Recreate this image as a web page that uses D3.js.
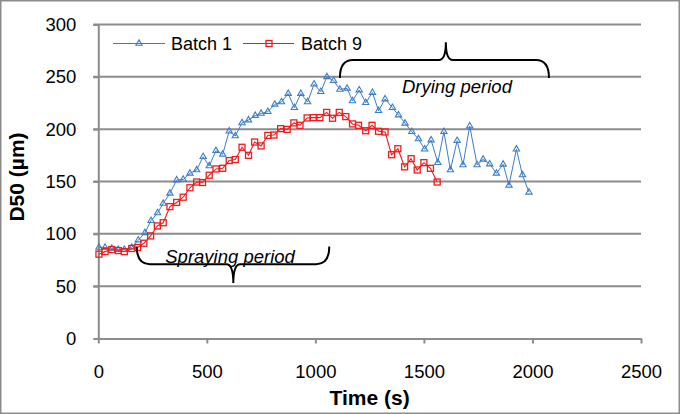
<!DOCTYPE html>
<meta charset="utf-8">
<style>
body { margin: 0; background: #fff; }
svg { font-family: Arial, "Liberation Sans", sans-serif; }
.grid line { stroke: #8c8c8c; stroke-width: 2px; }
.axis path, .axis line { stroke: #8c8c8c; stroke-width: 2px; }
.axis text { font-size: 18.5px; fill: #000; }
</style>
<body>
<script src="https://cdn.jsdelivr.net/npm/d3@7"></script>
<script>

// Batch 1 (blue triangles)
var timeB1 = [3,31,62,92,120,154,184,215,243,273,299,330,361,391,422,453,483,511,542,573,603,631,662,692,723,750,781,813,844,875,903,933,964,994,1025,1053,1084,1113,1146,1171,1202,1232,1263,1291,1321,1355,1383,1413,1444,1475,1503,1533,1564,1592,1622,1653,1680,1711,1745,1773,1803,1834,1865,1892,1926,1954,1984];
var d50B1 = [87,87,86,85,85,87,94,101,112.6,120,129,138.7,151.4,152,157.8,161,173.7,164.8,179.4,176,198,193.5,206,208.7,213,215,216.7,223.7,226,234,220.5,234,226,243,235.8,250,246.3,238,239,227,237.4,225.3,235,217.6,228.8,220.5,213.5,205.6,197.6,190.6,180.8,189.6,168,197.6,161,189,165.8,203,165.8,171.2,166.7,157.8,166.4,146.4,180.8,156.2,139.7];

// Batch 9 (red squares)
var timeB9 = [3,31,62,92,120,154,181,210,241,272,299,330,361,391,422,453,480,511,542,573,603,631,662,692,720,750,781,809,840,870,901,929,962,990,1021,1052,1079,1110,1140,1171,1199,1232,1261,1291,1321,1351,1380,1411,1441,1469,1500,1530,1561];
var d50B9 = [80.6,83,85,84,83,86,87,91,98,107.5,110.6,126,130,135,144,149.5,149,156,162,162.6,170,171,182.7,175,187.7,184,194,194.4,200.5,199.8,206,203.7,210.7,211,211,216,210.4,216,212,205,203.7,198.5,203.7,198,197.3,175.6,181.3,164,171.8,161,168,162.6,149.5];

var xTicks = [0,500,1000,1500,2000,2500];
var yTicks = [0,50,100,150,200,250,300];

// brace annotations, in data units: [t start, t end, t tip, value at ends, value of line, value at tip]
var sprayBrace = [177, 1064, 622, 88, 71, 53];
var dryBrace = [1113, 2076, 1601, 249, 266, 283];

var width = 680, height = 414;
var margin = {top: 24.5, right: 39, bottom: 75.5, left: 98.3};

var svg = d3.select("body").append("svg")
    .attr("width", width)
    .attr("height", height);

// outer frame
svg.append("rect")
    .attr("x", 0.75).attr("y", 0.75)
    .attr("width", width - 1.5).attr("height", height - 1.5)
    .attr("fill", "none").attr("stroke", "#8c8c8c").attr("stroke-width", 1.5);

var x = d3.scaleLinear().domain([0, 2500]).range([margin.left, width - margin.right]);
var y = d3.scaleLinear().domain([0, 300]).range([height - margin.bottom, margin.top]);

// horizontal gridlines
svg.append("g").attr("class", "grid")
  .selectAll("line")
  .data(yTicks.slice(1))
  .enter().append("line")
    .attr("x1", margin.left - 5).attr("x2", x(2500))
    .attr("y1", d => y(d)).attr("y2", d => y(d));

// axes
svg.append("g").attr("class", "axis")
    .attr("transform", "translate(0," + y(0) + ")")
    .call(d3.axisBottom(x).tickValues(xTicks).tickFormat(d3.format("d")).tickSize(5).tickPadding(21).tickSizeOuter(0));

svg.append("g").attr("class", "axis")
    .attr("transform", "translate(" + margin.left + ",0)")
    .call(d3.axisLeft(y).tickValues(yTicks).tickFormat(d3.format("d")).tickSize(5).tickPadding(17).tickSizeOuter(0));

// axis titles
svg.append("text")
    .attr("x", (x(0) + x(2500)) / 2)
    .attr("y", 405)
    .attr("text-anchor", "middle")
    .style("font-size", "21px").style("font-weight", "bold")
    .text("Time (s)");

svg.append("text")
    .attr("transform", "translate(24,177) rotate(-90)")
    .attr("text-anchor", "middle")
    .style("font-size", "21px").style("font-weight", "bold")
    .text("D50 (µm)");

// series
var blue = "#3b7dc8", red = "#ee1c1c";
var line = d3.line().x(d => x(d[0])).y(d => y(d[1]));
var b1 = timeB1.map((t, i) => [t, d50B1[i]]);
var b9 = timeB9.map((t, i) => [t, d50B9[i]]);

svg.append("path").datum(b1)
    .attr("fill", "none").attr("stroke", blue).attr("stroke-width", 1)
    .attr("d", line);

var tri = d3.symbol().type(d3.symbolTriangle).size(17);
svg.append("g").selectAll("path")
    .data(b1)
  .enter().append("path")
    .attr("transform", d => "translate(" + x(d[0]) + "," + y(d[1]) + ")")
    .attr("d", tri)
    .attr("fill", "none").attr("stroke", blue).attr("stroke-width", 1.1);

svg.append("path").datum(b9)
    .attr("fill", "none").attr("stroke", red).attr("stroke-width", 1.1)
    .attr("d", line);

svg.append("g").selectAll("rect")
    .data(b9)
  .enter().append("rect")
    .attr("x", d => x(d[0]) - 3).attr("y", d => y(d[1]) - 3)
    .attr("width", 6).attr("height", 6)
    .attr("fill", "none").attr("stroke", red).attr("stroke-width", 1.3);

// braces
function bracePath(b) {
  var x1 = x(b[0]), x2 = x(b[1]), xt = x(b[2]);
  var ye = y(b[3]), yl = y(b[4]), yt = y(b[5]);
  var r = 13, r2 = 7;
  return "M" + x1 + "," + ye +
    "Q" + x1 + "," + yl + " " + (x1 + r) + "," + yl +
    "L" + (xt - r2) + "," + yl +
    "Q" + xt + "," + yl + " " + xt + "," + yt +
    "Q" + xt + "," + yl + " " + (xt + r2) + "," + yl +
    "L" + (x2 - r) + "," + yl +
    "Q" + x2 + "," + yl + " " + x2 + "," + ye;
}
[sprayBrace, dryBrace].forEach(function(b) {
  svg.append("path")
    .attr("d", bracePath(b))
    .attr("fill", "none").attr("stroke", "#000").attr("stroke-width", 2);
});

svg.append("text")
    .attr("x", x(607)).attr("y", 263)
    .attr("text-anchor", "middle")
    .style("font-size", "18.5px").style("font-style", "italic")
    .text("Spraying period");

svg.append("text")
    .attr("x", x(1652)).attr("y", 93)
    .attr("text-anchor", "middle")
    .style("font-size", "18.5px").style("font-style", "italic")
    .text("Drying period");

// legend
var legend = svg.append("g");
legend.append("line").attr("x1", 113).attr("x2", 165).attr("y1", 43.5).attr("y2", 43.5)
    .attr("stroke", blue).attr("stroke-width", 1.2);
legend.append("path").attr("transform", "translate(139,43.5)").attr("d", tri)
    .attr("fill", "none").attr("stroke", blue).attr("stroke-width", 1.1);
legend.append("text").attr("x", 171).attr("y", 49.5).style("font-size", "18px").text("Batch 1");

legend.append("line").attr("x1", 243).attr("x2", 294).attr("y1", 43.5).attr("y2", 43.5)
    .attr("stroke", red).attr("stroke-width", 1.2);
legend.append("rect").attr("x", 266).attr("y", 40.5).attr("width", 6).attr("height", 6)
    .attr("fill", "none").attr("stroke", red).attr("stroke-width", 1.3);
legend.append("text").attr("x", 301).attr("y", 49.5).style("font-size", "18px").text("Batch 9");

</script>
</body>
